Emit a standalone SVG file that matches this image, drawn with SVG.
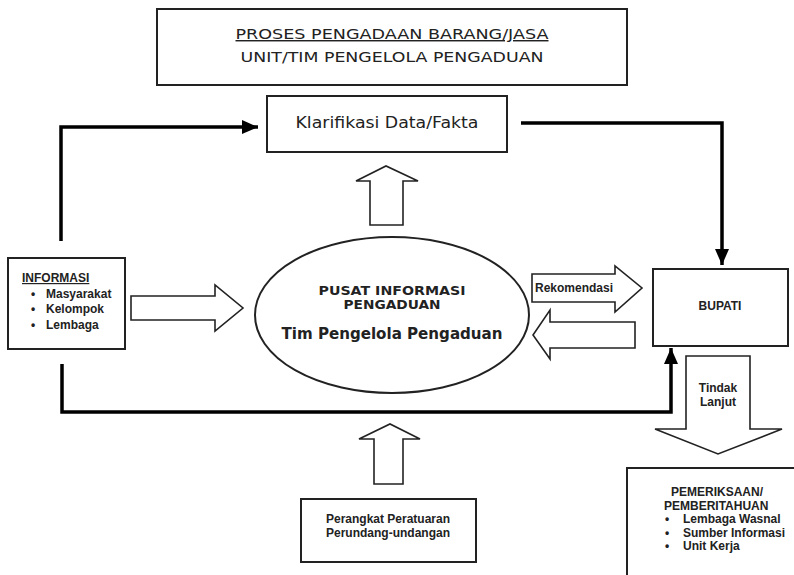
<svg xmlns="http://www.w3.org/2000/svg" width="794" height="575" viewBox="0 0 794 575">
<defs>
<style>
.box{fill:#fff;stroke:#222;stroke-width:2}
.blk{fill:#fff;stroke:#222;stroke-width:1.6;stroke-linejoin:miter}
.con{fill:none;stroke:#000;stroke-width:3.5}
.v{font-family:"DejaVu Sans",Verdana,sans-serif;fill:#222}
.vb{font-family:"DejaVu Sans",Verdana,sans-serif;font-weight:bold;fill:#222}
.a{font-family:"Liberation Sans",Arial,sans-serif;font-weight:bold;fill:#222;font-size:12px}
</style>
<marker id="ah" markerUnits="userSpaceOnUse" markerWidth="17" markerHeight="14" refX="16" refY="7" orient="auto">
<path d="M0,0 L16,7 L0,14 z" fill="#000"/>
</marker>
</defs>
<rect width="794" height="575" fill="#fff"/>

<g id="connectors">
<path class="con" d="M61,241 V127 H258" marker-end="url(#ah)"/>
<path class="con" d="M521,123 H722 V265" marker-end="url(#ah)"/>
<path class="con" d="M62,364 V412 H671 V348" marker-end="url(#ah)"/>
<polygon class="blk" points="131,296 215,296 215,285 243,308 215,331 215,320 131,320"/>
<polygon class="blk" points="370,225 370,181 356,181 386,166 418,181 403,181 403,225"/>
<polygon class="blk" points="532,274 615,274 615,266 642,288 615,312 615,302 532,302"/>
<polygon class="blk" points="635,322 550,322 550,310 533,335 550,359 550,348 635,348"/>
<polygon class="blk" points="374,484 374,439 359,439 390,424 420,439 403,439 403,484"/>
<polygon class="blk" points="686,356 750,356 750,429 782,429 718,454 655,429 686,429"/>
</g>

<g id="title">
<rect class="box" x="157" y="9" width="470" height="76" stroke-width="2.5"/>
<text class="v" x="392" y="39" font-size="14.5" text-anchor="middle" text-decoration="underline" textLength="313" lengthAdjust="spacingAndGlyphs">PROSES PENGADAAN BARANG/JASA</text>
<text class="v" x="392" y="62" font-size="14.5" text-anchor="middle" textLength="303" lengthAdjust="spacingAndGlyphs">UNIT/TIM PENGELOLA PENGADUAN</text>
</g>

<g id="klarifikasi">
<rect class="box" x="267" y="96" width="240" height="56"/>
<text class="v" x="387" y="128" font-size="16" text-anchor="middle" textLength="183" lengthAdjust="spacingAndGlyphs">Klarifikasi Data/Fakta</text>
</g>

<g id="informasi">
<rect class="box" x="8" y="258" width="117" height="91"/>
<text class="a" x="22" y="282" text-decoration="underline">INFORMASI</text>
<text class="a" x="31" y="298">•</text><text class="a" x="46" y="298">Masyarakat</text>
<text class="a" x="31" y="313">•</text><text class="a" x="46" y="313">Kelompok</text>
<text class="a" x="31" y="329">•</text><text class="a" x="46" y="329">Lembaga</text>
</g>

<g id="pusat">
<ellipse cx="392" cy="315" rx="137" ry="78" fill="#fff" stroke="#222" stroke-width="2"/>
<text class="vb" x="392" y="295" font-size="12" text-anchor="middle" textLength="147" lengthAdjust="spacingAndGlyphs">PUSAT INFORMASI</text>
<text class="vb" x="392" y="309" font-size="12" text-anchor="middle" textLength="97" lengthAdjust="spacingAndGlyphs">PENGADUAN</text>
<text class="vb" x="392" y="339" font-size="16" text-anchor="middle" textLength="221" lengthAdjust="spacingAndGlyphs">Tim Pengelola Pengaduan</text>
</g>

<g id="rekomendasi-label">
<text class="a" x="535" y="292" font-size="13">Rekomendasi</text>
</g>

<g id="bupati">
<rect class="box" x="653" y="269" width="135" height="77"/>
<text class="a" x="720" y="310" font-size="13" text-anchor="middle">BUPATI</text>
</g>

<g id="tindak-lanjut">
<text class="a" x="718" y="392" font-size="13" text-anchor="middle">Tindak</text>
<text class="a" x="718" y="406" font-size="13" text-anchor="middle">Lanjut</text>
</g>

<g id="perangkat">
<rect class="box" x="301" y="499" width="175" height="63"/>
<text class="a" x="388" y="523" text-anchor="middle">Perangkat Peratuaran</text>
<text class="a" x="388" y="537" text-anchor="middle">Perundang-undangan</text>
</g>

<g id="pemeriksaan">
<rect class="box" x="627" y="468" width="200" height="130"/>
<text class="a" x="671" y="496">PEMERIKSAAN/</text>
<text class="a" x="664" y="510">PEMBERITAHUAN</text>
<text class="a" x="665" y="523">•</text><text class="a" x="683" y="523">Lembaga Wasnal</text>
<text class="a" x="665" y="537">•</text><text class="a" x="683" y="537">Sumber Informasi</text>
<text class="a" x="665" y="550">•</text><text class="a" x="683" y="550">Unit Kerja</text>
</g>
</svg>
